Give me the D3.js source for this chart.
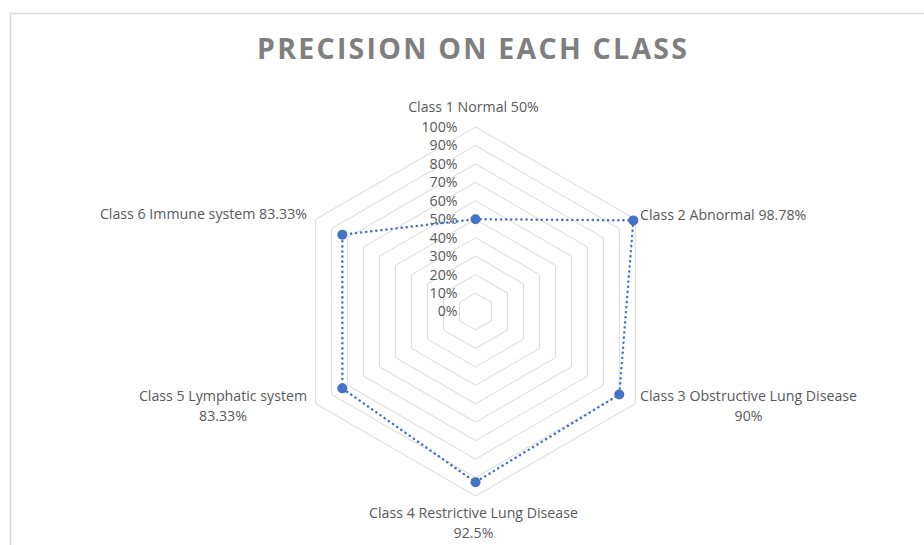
<!DOCTYPE html>
<html>
<head>
<meta charset="utf-8">
<script src="https://cdn.jsdelivr.net/npm/d3@7"></script>
<style>
  html, body { margin: 0; padding: 0; background: #fff; }
  svg { display: block; }
  text { font-family: "Open Sans", "Noto Sans", sans-serif; }
</style>
</head>
<body>
<svg id="chart" width="924" height="545"></svg>
<script>
// Class names and precision per class (percent)
const classNames = [
  "Class 1 Normal",
  "Class 2 Abnormal",
  "Class 3 Obstructive Lung Disease",
  "Class 4 Restrictive Lung Disease",
  "Class 5 Lymphatic system",
  "Class 6 Immune system"
];
const precision = [50, 98.78, 90, 92.5, 83.33, 83.33];
const precisionText = ["50%", "98.78%", "90%", "92.5%", "83.33%", "83.33%"];
const tickValues = [0, 10, 20, 30, 40, 50, 60, 70, 80, 90, 100];
const tickLabels = ["0%", "10%", "20%", "30%", "40%", "50%", "60%", "70%", "80%", "90%", "100%"];

const svg = d3.select("#chart");
const W = 924, H = 545;
const cx = 475.5, cy = 311.5, R = 184.5;
const blue = "#4472C4";
const gridColor = "#d9d9d9";
const labelColor = "#595959";
const fs = 14.2;

// chart area border
svg.append("rect")
  .attr("x", 10.5).attr("y", 13.5)
  .attr("width", W + 20).attr("height", H + 20)
  .attr("fill", "#fff").attr("stroke", gridColor).attr("stroke-width", 1.5);

// title
svg.append("text")
  .attr("x", 472).attr("y", 59)
  .attr("text-anchor", "middle")
  .attr("font-size", 28.5).attr("font-weight", 700)
  .attr("fill", "#7f7f7f")
  .attr("textLength", 430).attr("lengthAdjust", "spacing")
  .text("PRECISION ON EACH CLASS");

const r = d3.scaleLinear().domain([0, 100]).range([0, R]);
const angle = d3.scaleLinear().domain([0, classNames.length]).range([0, 2 * Math.PI]);
const pt = (i, v) => [cx + r(v) * Math.sin(angle(i)), cy - r(v) * Math.cos(angle(i))];

// hexagonal gridlines
const ringLine = d3.line().curve(d3.curveLinearClosed);
svg.append("g").selectAll("path")
  .data(tickValues.filter(v => v > 0))
  .join("path")
  .attr("d", v => ringLine(classNames.map((_, i) => pt(i, v))))
  .attr("fill", "none")
  .attr("stroke", gridColor)
  .attr("stroke-width", 1);

// radial axis tick labels
svg.append("g").selectAll("text")
  .data(tickValues)
  .join("text")
  .attr("x", cx - 18)
  .attr("y", v => cy - r(v))
  .attr("dy", "0.35em")
  .attr("text-anchor", "end")
  .attr("font-size", fs)
  .attr("fill", labelColor)
  .text((v, i) => tickLabels[i]);

// series line
svg.append("path")
  .attr("d", ringLine(precision.map((v, i) => pt(i, v))))
  .attr("fill", "none")
  .attr("stroke", blue)
  .attr("stroke-width", 2.5)
  .attr("stroke-linecap", "round")
  .attr("stroke-dasharray", "0.1 5");

// markers
svg.append("g").selectAll("circle")
  .data(precision)
  .join("circle")
  .attr("cx", (v, i) => pt(i, v)[0])
  .attr("cy", (v, i) => pt(i, v)[1])
  .attr("r", 5)
  .attr("fill", blue);

// category label placement
const layout = [
  { anchor: "middle", x: cx - 2, y: cy - R - 20, split: false },
  { anchor: "start", x: 640, y: 215, split: false },
  { anchor: "middle", x: 748.5, y: 396, split: true },
  { anchor: "middle", x: cx - 2, y: 513, split: true },
  { anchor: "middle", x: 223, y: 396, split: true },
  { anchor: "end", x: 307, y: 214, split: false }
];
const labels = svg.append("g");
classNames.forEach((name, i) => {
  const L = layout[i];
  const t = labels.append("text")
    .attr("text-anchor", L.anchor)
    .attr("font-size", fs)
    .attr("fill", labelColor);
  if (L.split) {
    t.append("tspan").attr("x", L.x).attr("y", L.y).attr("dy", "0.35em").text(name);
    t.append("tspan").attr("x", L.x).attr("y", L.y + 20).attr("dy", "0.35em").text(precisionText[i]);
  } else {
    t.append("tspan").attr("x", L.x).attr("y", L.y).attr("dy", "0.35em").text(name + " " + precisionText[i]);
  }
});
</script>
</body>
</html>
